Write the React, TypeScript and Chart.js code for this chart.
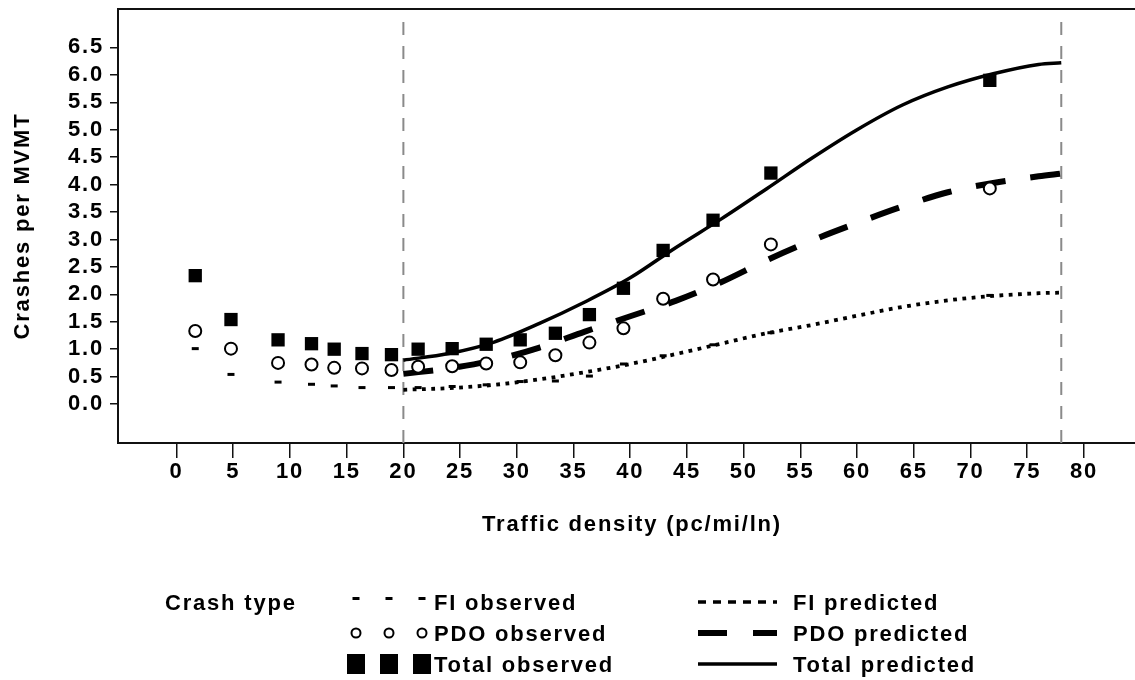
import React, { useEffect, useRef } from "react";
import { Chart, registerables } from "chart.js";

Chart.register(...registerables);

// Observed crash rates, binned by traffic density (pc/mi/ln)
const obsDensity = [1.65, 4.8, 8.95, 11.9, 13.9, 16.35, 18.95, 21.3, 24.3, 27.3, 30.3, 33.4, 36.4, 39.4, 42.9, 47.3, 52.4, 71.7];
const totalObs = [2.34, 1.54, 1.17, 1.10, 1.00, 0.92, 0.90, 1.00, 1.01, 1.09, 1.17, 1.29, 1.63, 2.11, 2.80, 3.35, 4.21, 5.90];
const pdoObs = [1.33, 1.01, 0.75, 0.72, 0.66, 0.65, 0.62, 0.68, 0.69, 0.74, 0.76, 0.89, 1.12, 1.38, 1.92, 2.27, 2.91, 3.93];
const fiObs = [1.01, 0.54, 0.40, 0.36, 0.33, 0.30, 0.30, 0.30, 0.32, 0.35, 0.41, 0.42, 0.51, 0.73, 0.88, 1.08, 1.30, 1.98];

// Model predictions over the calibrated density range
const predDensity = [20, 24, 28, 32, 36, 40, 44, 48, 52, 56, 60, 64, 68, 72, 76, 78];
const totalPred = [0.80, 0.92, 1.13, 1.47, 1.86, 2.30, 2.85, 3.37, 3.92, 4.48, 5.00, 5.45, 5.78, 6.02, 6.19, 6.22];
const pdoPred = [0.55, 0.65, 0.80, 1.03, 1.32, 1.60, 1.88, 2.22, 2.62, 2.98, 3.30, 3.60, 3.86, 4.03, 4.15, 4.20];
const fiPred = [0.26, 0.29, 0.35, 0.45, 0.58, 0.73, 0.91, 1.10, 1.29, 1.44, 1.61, 1.77, 1.89, 1.97, 2.02, 2.03];

// Bounds of the calibrated density range (dashed guides)
const rangeBounds = [20, 78];
const guideTop = 7.0;

// Axis ranges and tick labels
const xMin = -5.16;
const xMax = 84.5;
const yMin = -0.71;
const yMax = 7.2;
const xTicks = [0, 5, 10, 15, 20, 25, 30, 35, 40, 45, 50, 55, 60, 65, 70, 75, 80];
const yTicks = [0, 0.5, 1, 1.5, 2, 2.5, 3, 3.5, 4, 4.5, 5, 5.5, 6, 6.5];

const xTitle = "Traffic density (pc/mi/ln)";
const yTitle = "Crashes per MVMT";
const legendTitle = "Crash type";
const observedLabels = ["FI observed", "PDO observed", "Total observed"];
const predictedLabels = ["FI predicted", "PDO predicted", "Total predicted"];

const FONT = '"Liberation Sans", Arial, Helvetica, sans-serif';
const FONT_SIZE = 22;
const SPACING = "1.8px";

const pts = (xs: number[], ys: number[]) => xs.map((x, i) => ({ x, y: ys[i] }));

export default function App() {
  const canvasRef = useRef<HTMLCanvasElement | null>(null);

  useEffect(() => {
    const canvas = canvasRef.current;
    if (!canvas) return;

    const spacingPlugin = {
      id: "spacing",
      beforeDraw(chart: any) {
        chart.ctx.letterSpacing = SPACING;
      },
    };

    const framePlugin = {
      id: "frame",
      afterDraw(chart: any) {
        const { ctx, chartArea } = chart;
        ctx.save();
        ctx.strokeStyle = "#111";
        ctx.lineWidth = 2;
        ctx.beginPath();
        ctx.moveTo(chartArea.left - 1, chartArea.top);
        ctx.lineTo(chartArea.right, chartArea.top);
        ctx.stroke();
        ctx.restore();
      },
    };

    const textPlugin = {
      id: "texts",
      afterDraw(chart: any) {
        const { ctx, chartArea } = chart;
        ctx.save();
        ctx.letterSpacing = SPACING;
        ctx.fillStyle = "#000";
        ctx.font = `bold ${FONT_SIZE}px ${FONT}`;

        // axis titles
        ctx.textAlign = "center";
        ctx.textBaseline = "alphabetic";
        ctx.fillText(xTitle, 632, 531);
        ctx.save();
        ctx.translate(29, (chartArea.top + chartArea.bottom) / 2);
        ctx.rotate(-Math.PI / 2);
        ctx.fillText(yTitle, 0, 0);
        ctx.restore();

        // legend
        const rows = [610, 641, 672];
        ctx.textAlign = "left";
        ctx.fillText(legendTitle, 165, rows[0]);
        const symX = [356, 389, 422];
        rows.forEach((base, r) => {
          const cy = base - 8;
          symX.forEach((sx) => {
            if (r === 0) {
              ctx.fillRect(sx - 3.5, cy - 5, 7, 3);
            } else if (r === 1) {
              ctx.beginPath();
              ctx.arc(sx, cy, 4.5, 0, Math.PI * 2);
              ctx.fillStyle = "#fff";
              ctx.fill();
              ctx.lineWidth = 2;
              ctx.strokeStyle = "#000";
              ctx.stroke();
              ctx.fillStyle = "#000";
            } else {
              ctx.fillRect(sx - 9, cy - 10, 18, 20);
            }
          });
          ctx.fillText(observedLabels[r], 434, base);

          ctx.beginPath();
          ctx.strokeStyle = "#000";
          ctx.lineCap = "butt";
          if (r === 0) {
            ctx.setLineDash([8, 7]);
            ctx.lineWidth = 3.5;
          } else if (r === 1) {
            ctx.setLineDash([29, 26]);
            ctx.lineWidth = 6;
          } else {
            ctx.setLineDash([]);
            ctx.lineWidth = 3.5;
          }
          ctx.moveTo(698, cy);
          ctx.lineTo(777, cy);
          ctx.stroke();
          ctx.setLineDash([]);
          ctx.fillText(predictedLabels[r], 793, base);
        });
        ctx.restore();
      },
    };

    const tickFont = { family: FONT, size: FONT_SIZE, weight: "bold" as const };

    const chart = new Chart(canvas, {
      type: "scatter",
      data: {
        datasets: [
          {
            label: "Total observed",
            data: pts(obsDensity, totalObs),
            pointStyle: "rect",
            pointRadius: 9.4,
            backgroundColor: "#000",
            borderColor: "#000",
            borderWidth: 0,
            order: 0,
          },
          {
            label: "PDO observed",
            data: pts(obsDensity, pdoObs),
            pointStyle: "circle",
            pointRadius: 6,
            backgroundColor: "#fff",
            borderColor: "#000",
            borderWidth: 2,
            order: 0,
          },
          {
            label: "FI observed",
            data: pts(obsDensity, fiObs),
            pointStyle: "line",
            pointRadius: 3.5,
            borderColor: "#000",
            borderWidth: 3,
            order: 0,
          },
          {
            label: "Total predicted",
            data: pts(predDensity, totalPred),
            showLine: true,
            pointRadius: 0,
            borderColor: "#000",
            borderWidth: 3.5,
            cubicInterpolationMode: "monotone",
            order: 1,
          },
          {
            label: "PDO predicted",
            data: pts(predDensity, pdoPred),
            showLine: true,
            pointRadius: 0,
            borderColor: "#000",
            borderWidth: 6,
            borderDash: [30, 25],
            borderCapStyle: "butt",
            cubicInterpolationMode: "monotone",
            order: 1,
          },
          {
            label: "FI predicted",
            data: pts(predDensity, fiPred),
            showLine: true,
            pointRadius: 0,
            borderColor: "#000",
            borderWidth: 3.8,
            borderDash: [3.8, 5.5],
            borderCapStyle: "butt",
            cubicInterpolationMode: "monotone",
            order: 1,
          },
          ...rangeBounds.map((b) => ({
            label: `bound ${b}`,
            data: [
              { x: b, y: yMin },
              { x: b, y: guideTop },
            ],
            showLine: true,
            pointRadius: 0,
            borderColor: "#8a8a8a",
            borderWidth: 2,
            borderDash: [13, 11],
            order: 2,
          })),
        ],
      },
      options: {
        responsive: false,
        animation: false,
        devicePixelRatio: 1,
        layout: { autoPadding: false, padding: { top: 9, left: 0, right: 0, bottom: 0 } },
        plugins: {
          legend: { display: false },
          tooltip: { enabled: false },
          title: { display: false },
        },
        scales: {
          x: {
            type: "linear",
            min: xMin,
            max: xMax,
            afterBuildTicks: (scale: any) => {
              scale.ticks = xTicks.map((v) => ({ value: v }));
            },
            afterFit: (scale: any) => {
              scale.height = 237;
              scale.paddingLeft = 0;
              scale.paddingRight = 0;
            },
            ticks: {
              autoSkip: false,
              maxRotation: 0,
              padding: 1,
              color: "#000",
              font: tickFont,
              callback: (v: any) => String(v),
            },
            grid: {
              drawOnChartArea: false,
              drawTicks: true,
              tickLength: 15,
              color: "#111",
              lineWidth: 1.5,
            },
            border: { display: true, color: "#111", width: 2 },
          },
          y: {
            type: "linear",
            min: yMin,
            max: yMax,
            afterBuildTicks: (scale: any) => {
              scale.ticks = yTicks.map((v) => ({ value: v }));
            },
            afterFit: (scale: any) => {
              scale.width = 118;
              scale.paddingTop = 0;
              scale.paddingBottom = 0;
            },
            ticks: {
              padding: 6,
              color: "#000",
              font: tickFont,
              callback: (v: any) => Number(v).toFixed(1),
            },
            grid: {
              drawOnChartArea: false,
              drawTicks: true,
              tickLength: 8,
              color: "#111",
              lineWidth: 1.5,
            },
            border: { display: true, color: "#111", width: 2 },
          },
        },
      },
      plugins: [spacingPlugin, framePlugin, textPlugin],
    } as any);

    return () => chart.destroy();
  }, []);

  return (
    <div style={{ position: "fixed", left: 0, top: 0, width: 1135, height: 680, background: "#fff" }}>
      <canvas ref={canvasRef} width={1135} height={680} style={{ display: "block" }} />
    </div>
  );
}
